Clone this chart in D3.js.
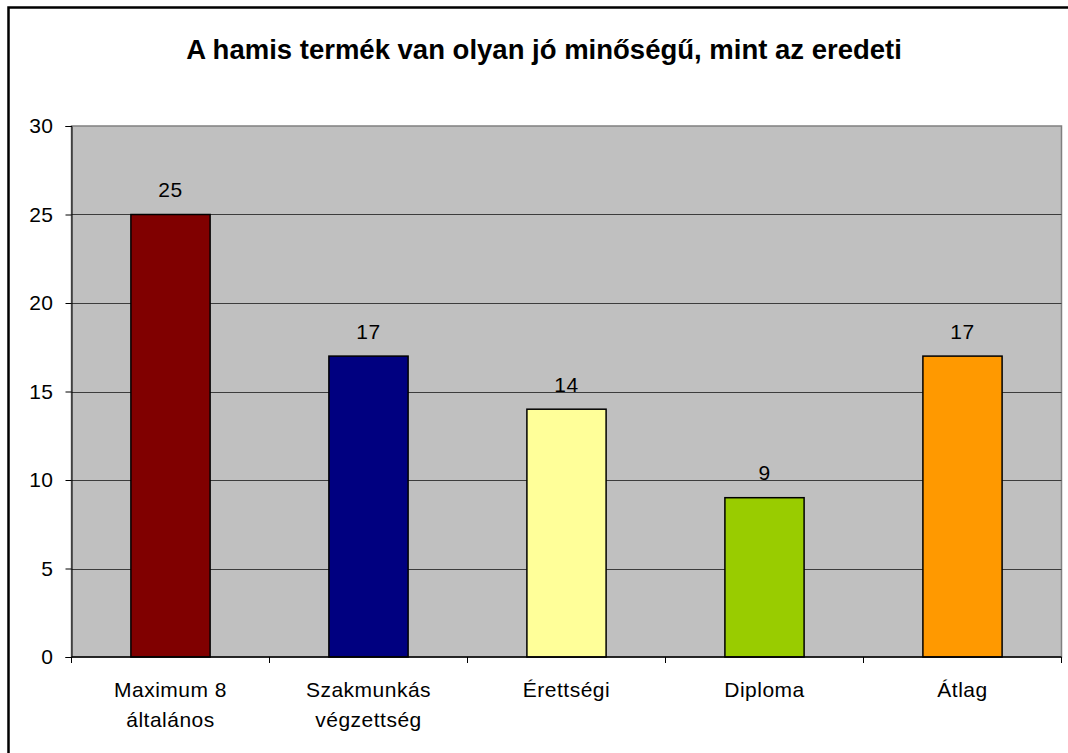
<!DOCTYPE html>
<html>
<head>
<meta charset="utf-8">
<script src="https://cdn.jsdelivr.net/npm/d3@7"></script>
<style>
  body { margin: 0; background: #fff; }
  svg { display: block; font-family: "Liberation Sans", Arial, sans-serif; }
</style>
</head>
<body>
<svg id="chart" width="1068" height="753"></svg>
<script>
// chart data
var categories = [["Maximum 8", "általános"], ["Szakmunkás", "végzettség"], ["Érettségi"], ["Diploma"], ["Átlag"]];
var values = [25, 17, 14, 9, 17];
var barColors = ["#800000", "#000080", "#FFFF99", "#99CC00", "#FF9900"];
var yTicks = [0, 5, 10, 15, 20, 25, 30];

var Chart = (function(){
  var svg = d3.select("#chart");
  var pLeft = 71.5, pRight = 1061.5, pTop = 126, pBottom = 657;
  var fontSize = 21;

  // outer frame (right/bottom sides run off the picture)
  svg.append("rect")
     .attr("x", 8.5).attr("y", 7.5)
     .attr("width", 1070).attr("height", 760)
     .attr("fill", "#fff").attr("stroke", "#000").attr("stroke-width", 2.5);

  svg.append("text")
     .attr("x", 544).attr("y", 59)
     .attr("text-anchor", "middle")
     .attr("font-size", 27.5).attr("font-weight", "bold")
     .text("A hamis termék van olyan jó minőségű, mint az eredeti");

  var y = d3.scaleLinear().domain([0, 30]).range([pBottom, pTop]);
  var x = d3.scaleBand().domain(d3.range(values.length)).range([pLeft, pRight])
            .paddingInner(0.6).paddingOuter(0.3);
  var xCat = d3.scaleBand().domain(d3.range(values.length)).range([pLeft, pRight]);

  // plot area
  svg.append("rect")
     .attr("x", pLeft).attr("y", pTop)
     .attr("width", pRight - pLeft).attr("height", pBottom - pTop)
     .attr("fill", "#C0C0C0").attr("stroke", "#808080").attr("stroke-width", 1.5);

  // gridlines
  svg.append("g").selectAll("line")
     .data(yTicks.filter(function(d){ return d > 0 && d < 30; }))
     .enter().append("line")
     .attr("x1", pLeft).attr("x2", pRight)
     .attr("y1", function(d){ return Math.round(y(d)) + 0.5; })
     .attr("y2", function(d){ return Math.round(y(d)) + 0.5; })
     .attr("stroke", "#3c3c3c").attr("stroke-width", 1);

  // bars
  svg.append("g").selectAll("rect")
     .data(values)
     .enter().append("rect")
     .attr("x", function(d, i){ return x(i); })
     .attr("y", function(d){ return y(d); })
     .attr("width", x.bandwidth())
     .attr("height", function(d){ return pBottom - y(d); })
     .attr("fill", function(d, i){ return barColors[i]; })
     .attr("stroke", "#000").attr("stroke-width", 1.5);

  // value labels
  svg.append("g").selectAll("text")
     .data(values)
     .enter().append("text")
     .attr("x", function(d, i){ return x(i) + x.bandwidth() / 2; })
     .attr("y", function(d){ return y(d) - 17.5; })
     .attr("text-anchor", "middle")
     .attr("font-size", fontSize).attr("letter-spacing", 0.5)
     .text(function(d){ return d; });

  // y axis
  var yAxis = svg.append("g")
     .attr("transform", "translate(" + pLeft + ",0)")
     .call(d3.axisLeft(y).tickValues(yTicks).tickSize(6).tickPadding(12));
  yAxis.select(".domain").attr("stroke", "#000");
  yAxis.selectAll("line").attr("stroke", "#000");
  yAxis.selectAll("text")
       .attr("font-size", fontSize).attr("letter-spacing", 0.5)
       .attr("font-family", "Liberation Sans, Arial, sans-serif").attr("fill", "#000");

  // x axis
  svg.append("line")
     .attr("x1", pLeft).attr("x2", pRight)
     .attr("y1", pBottom).attr("y2", pBottom)
     .attr("stroke", "#000").attr("stroke-width", 1.5);
  svg.append("g").selectAll("line")
     .data(d3.range(values.length + 1))
     .enter().append("line")
     .attr("x1", function(i){ return pLeft + i * xCat.bandwidth(); })
     .attr("x2", function(i){ return pLeft + i * xCat.bandwidth(); })
     .attr("y1", pBottom).attr("y2", pBottom + 6)
     .attr("stroke", "#000");

  var catText = svg.append("g").selectAll("text")
     .data(categories)
     .enter().append("text")
     .attr("x", function(d, i){ return xCat(i) + xCat.bandwidth() / 2; })
     .attr("y", 697)
     .attr("text-anchor", "middle")
     .attr("font-size", fontSize).attr("letter-spacing", 0.5);
  catText.each(function(lines){
    var t = d3.select(this);
    lines.forEach(function(l, k){
      t.append("tspan").attr("x", t.attr("x")).attr("dy", k === 0 ? 0 : 30).text(l);
    });
  });
  return { x: x, y: y };
})();
</script>
</body>
</html>
